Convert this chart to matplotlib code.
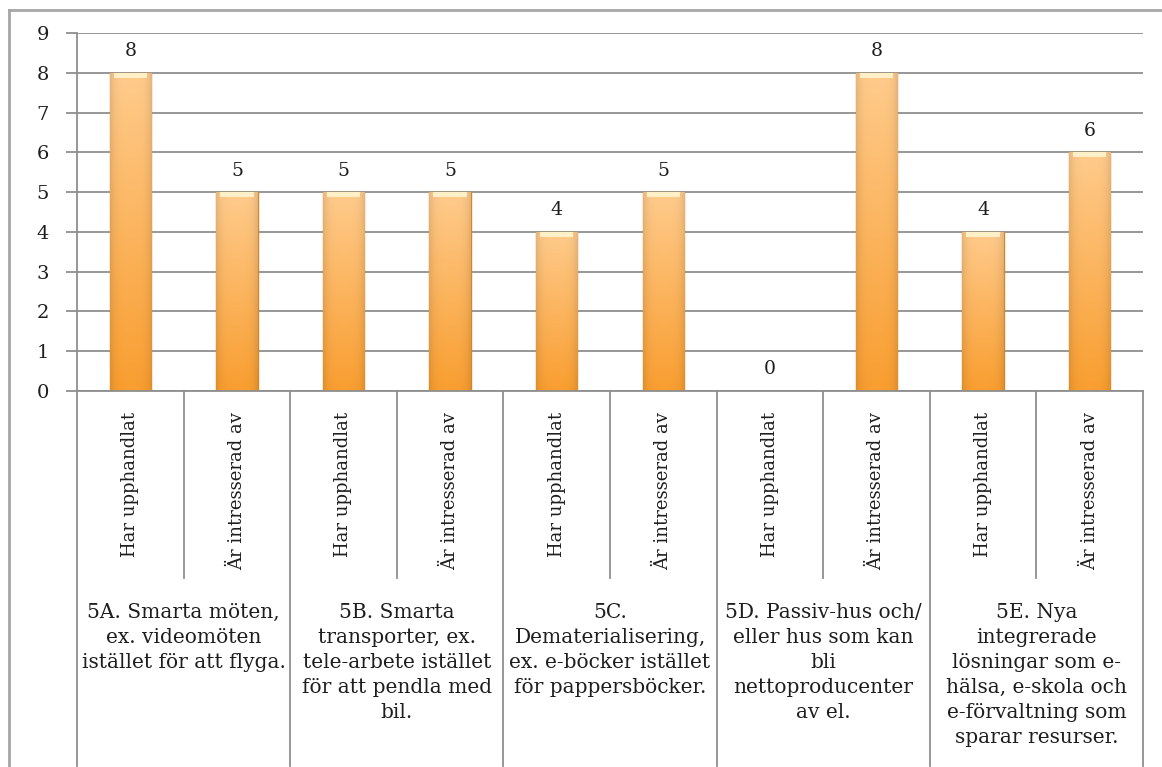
import matplotlib.pyplot as plt
import matplotlib.transforms as mtransforms
import numpy as np

# svar per åtgärd: "Har upphandlat" / "Är intresserad av"
sub_labels = ['Har upphandlat', 'Är intresserad av'] * 5
values = [8, 5, 5, 5, 4, 5, 0, 8, 4, 6]
group_labels = [
    '5A. Smarta möten,\nex. videomöten\nistället för att flyga.',
    '5B. Smarta\ntransporter, ex.\ntele-arbete istället\nför att pendla med\nbil.',
    '5C.\nDematerialisering,\nex. e-böcker istället\nför pappersböcker.',
    '5D. Passiv-hus och/\neller hus som kan\nbli\nnettoproducenter\nav el.',
    '5E. Nya\nintegrerade\nlösningar som e-\nhälsa, e-skola och\ne-förvaltning som\nsparar resurser.',
]

plt.rcParams['font.family'] = ['DejaVu Serif']
grid_col = '#8f8f8f'
txt_col = '#1e1e1e'

W, H = 1162, 767
fig = plt.figure(figsize=(W / 100, H / 100), dpi=100)
ax = fig.add_axes([77 / W, 1 - 391 / H, (1143 - 77) / W, (391 - 33) / H])

x = np.arange(len(values))
bw = 0.39
bars = ax.bar(x, values, width=bw, color='#fbb45a', edgecolor='#d6862a', linewidth=1.0, zorder=2)

# orange gradient inside each bar (lighter at the top, darker at the sides)
top = np.array([255, 203, 140]) / 255
bot = np.array([249, 158, 48]) / 255
rows = np.linspace(0, 1, 100)[:, None, None]
cols = np.linspace(-1, 1, 40)[None, :, None]
grad = bot + (top - bot) * rows
grad = grad * (1 - 0.10 * cols ** 4)
grad = np.clip(np.broadcast_to(grad, (100, 40, 3)), 0, 1)
for b, v in zip(bars, values):
    if v == 0:
        continue
    im = ax.imshow(grad, origin='lower', aspect='auto', zorder=2.5,
                   extent=[b.get_x(), b.get_x() + bw, 0, v])
    im.set_clip_path(b)
    ax.bar(b.get_x() + bw / 2, 0.12, bottom=v - 0.12, width=bw * 0.8,
           color='#fff0c8', linewidth=0, zorder=3)
    ax.annotate(str(v), (b.get_x() + bw / 2, v), xytext=(0, 9), textcoords='offset points',
                ha='center', va='bottom', fontsize=13.5, color=txt_col)
for xi, v in zip(x, values):
    if v == 0:
        ax.annotate('0', (xi, 0), xytext=(0, 9), textcoords='offset points',
                    ha='center', va='bottom', fontsize=13.5, color=txt_col)

ax.set_xlim(-0.5, 9.5)
ax.set_ylim(0, 9)
ax.set_yticks(range(10))
ax.set_xticks([])
ax.yaxis.grid(True, color=grid_col, linewidth=1.3)
ax.set_axisbelow(True)
ax.tick_params(axis='y', length=8, width=1.3, color=grid_col, pad=12, labelsize=14, labelcolor=txt_col)
for s in ['top', 'right']:
    ax.spines[s].set_visible(False)
for s in ['left', 'bottom']:
    ax.spines[s].set_color(grid_col)
    ax.spines[s].set_linewidth(1.3)

# category table below the axis
trans = mtransforms.blended_transform_factory(ax.transData, ax.transAxes)
inner_bottom = (391 - 578) / 358
outer_bottom = (391 - 766) / 358
for b in np.arange(-0.5, 10, 1):
    y0 = outer_bottom if int(b + 0.5) % 2 == 0 else inner_bottom
    ax.plot([b, b], [0, y0], transform=trans, color=grid_col, lw=1.3, clip_on=False)

for xi, lab in zip(x, sub_labels):
    ax.text(xi, (391 - 412) / 358, lab, transform=trans, rotation=90,
            ha='center', va='top', fontsize=13, color=txt_col)

for gi, lab in enumerate(group_labels):
    ax.text(2 * gi + 0.5, (391 - 603) / 358, lab, transform=trans, ha='center', va='top',
            fontsize=14.5, linespacing=1.4, color=txt_col)

# outer frame
fig.add_artist(plt.Line2D([9 / W, 9 / W], [0, 1 - 10 / H], color='#a6a6a6', lw=2))
fig.add_artist(plt.Line2D([9 / W, 1], [1 - 10 / H, 1 - 10 / H], color='#a6a6a6', lw=2))

fig.savefig('out.png', dpi=100)
